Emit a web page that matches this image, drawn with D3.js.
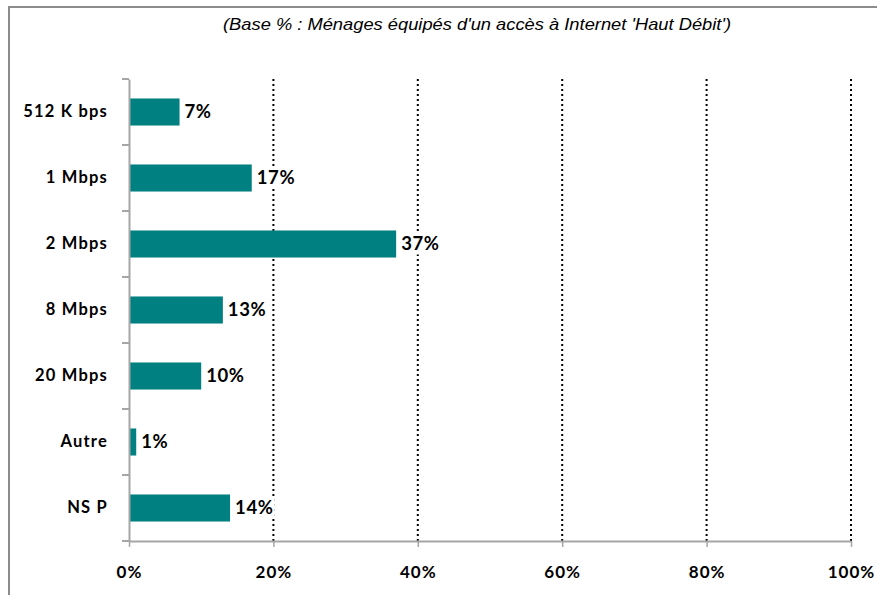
<!DOCTYPE html>
<html>
<head>
<meta charset="utf-8">
<script src="https://cdn.jsdelivr.net/npm/d3@7"></script>
<style>
  body { margin: 0; background: #fff; }
  #chart svg { display: block; }
</style>
</head>
<body>
<div id="chart"></div>
<script>
const categories = ['512 K bps', '1 Mbps', '2 Mbps', '8 Mbps', '20 Mbps', 'Autre', 'NS P']
const values = [7, 17, 37, 13, 10, 1, 14]
const xTicks = [0, 20, 40, 60, 80, 100]
const subtitle = "(Base % : Ménages équipés d'un accès à Internet 'Haut Débit')"

const width = 877
const height = 595
const margin = { top: 79, right: 26, bottom: 54, left: 129 }

const svg = d3
  .select('#chart')
  .append('svg')
  .attr('width', width)
  .attr('height', height)

// outer frame (only top and left visible)
svg.append('path')
  .attr('d', `M9,${height} V7 H${width}`)
  .attr('fill', 'none')
  .attr('stroke', '#8c8c8c')
  .attr('stroke-width', 2)

svg.append('text')
  .attr('x', 477)
  .attr('y', 30)
  .attr('text-anchor', 'middle')
  .attr('textLength', 508)
  .attr('lengthAdjust', 'spacingAndGlyphs')
  .style('font-family', 'Liberation Sans Narrow, Liberation Sans, Arial, sans-serif')
  .style('font-style', 'italic')
  .style('font-size', '17px')
  .attr('fill', '#000')
  .text(subtitle)

const x = d3.scaleLinear()
  .domain([0, 100])
  .range([margin.left, width - margin.right])

const y = d3.scaleBand()
  .domain(categories)
  .range([margin.top, height - margin.bottom])
  .paddingInner(0.59)
  .paddingOuter(0.295)

const yBand = d3.scaleBand()
  .domain(categories)
  .range([margin.top, height - margin.bottom])

// dotted gridlines
svg.append('g')
  .selectAll('line')
  .data(xTicks.filter(d => d > 0))
  .enter()
  .append('line')
  .attr('x1', d => x(d))
  .attr('x2', d => x(d))
  .attr('y1', margin.top)
  .attr('y2', height - margin.bottom)
  .attr('stroke', '#000')
  .attr('stroke-width', 2)
  .attr('stroke-dasharray', '2,3')

// bars
svg.append('g')
  .selectAll('rect')
  .data(values)
  .enter()
  .append('rect')
  .attr('x', x(0))
  .attr('y', (d, i) => y(categories[i]))
  .attr('width', d => x(d) - x(0))
  .attr('height', y.bandwidth())
  .attr('fill', '#008080')

// value labels with white backing
const labels = svg.append('g')
  .selectAll('g')
  .data(values)
  .enter()
  .append('g')
  .attr('transform', (d, i) => `translate(${x(d) + 5},${y(categories[i]) + y.bandwidth() / 2})`)

labels.append('text')
  .attr('dy', '0.35em')
  .style('font-family', 'Lato, Open Sans, sans-serif')
  .style('font-weight', 'bold')
  .style('font-size', '18.5px')
  .style('letter-spacing', '0.6px')
  .attr('fill', '#000')
  .text(d => d + '%')
  .each(function () {
    const b = this.getBBox()
    d3.select(this.parentNode)
      .insert('rect', 'text')
      .attr('x', b.x - 1)
      .attr('y', b.y)
      .attr('width', b.width + 2)
      .attr('height', b.height)
      .attr('fill', '#fff')
  })

// y axis
const yAxis = d3.axisLeft(yBand).tickSize(0).tickPadding(21)
const yg = svg.append('g')
  .attr('transform', `translate(${margin.left},0)`)
  .call(yAxis)
yg.select('.domain').attr('stroke', '#a6a6a6').attr('stroke-width', 2)
yg.selectAll('text')
  .style('font-family', 'Lato, Open Sans, sans-serif')
  .style('font-weight', 'bold')
  .style('font-size', '16.5px')
  .style('letter-spacing', '1.2px')
  .attr('fill', '#000')

// y tick marks on band boundaries
svg.append('g')
  .selectAll('line')
  .data(categories.concat(['end']))
  .enter()
  .append('line')
  .attr('x1', margin.left - 7)
  .attr('x2', margin.left)
  .attr('y1', (d, i) => i < categories.length ? yBand(d) : height - margin.bottom)
  .attr('y2', (d, i) => i < categories.length ? yBand(d) : height - margin.bottom)
  .attr('stroke', '#a6a6a6')
  .attr('stroke-width', 2)

// x axis
const xAxis = d3.axisBottom(x)
  .tickValues(xTicks)
  .tickFormat(d => d + '%')
  .tickSizeInner(6)
  .tickSizeOuter(0)
  .tickPadding(19)
const xg = svg.append('g')
  .attr('transform', `translate(0,${height - margin.bottom})`)
  .call(xAxis)
xg.select('.domain').attr('stroke', '#a6a6a6').attr('stroke-width', 2)
xg.selectAll('.tick line').attr('stroke', '#a6a6a6').attr('stroke-width', 1.5)
xg.selectAll('text')
  .style('font-family', 'Lato, Open Sans, sans-serif')
  .style('font-weight', 'bold')
  .style('font-size', '17px')
  .style('letter-spacing', '1px')
  .attr('fill', '#000')
</script>
</body>
</html>
